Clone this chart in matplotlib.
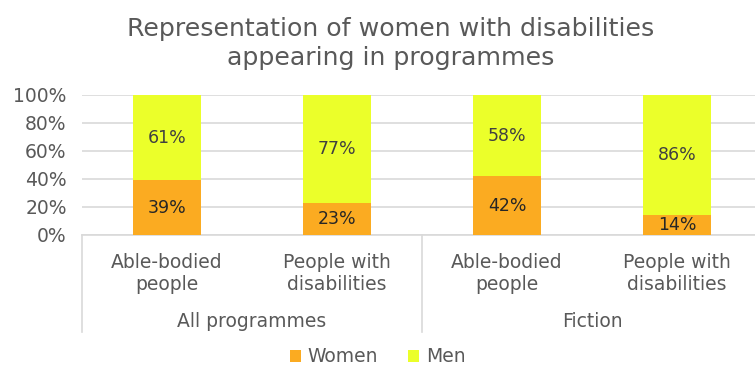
import matplotlib.pyplot as plt
import numpy as np

categories = ['Able-bodied\npeople', 'People with\ndisabilities',
              'Able-bodied\npeople', 'People with\ndisabilities']
groups = ['All programmes', 'Fiction']
women = [39, 23, 42, 14]
men = [61, 77, 58, 86]

orange = '#FBAB21'
yellow = '#EBFF2A'
grey = '#595959'

plt.rcParams['font.family'] = ['DejaVu Sans']

fig = plt.figure(figsize=(7.55, 3.65), dpi=100)
ax = fig.add_axes([82 / 755, 1 - 235 / 365, 680 / 755, 140 / 365])

x = np.arange(len(categories))
b1 = ax.bar(x, women, width=0.395, color=orange, label='Women', zorder=3)
b2 = ax.bar(x, men, bottom=women, width=0.395, color=yellow, label='Men', zorder=3)

for i in range(len(x)):
    ax.text(x[i], women[i] / 2, f'{women[i]}%', ha='center', va='center',
            fontsize=12.5, color='#262626', zorder=4)
    ax.text(x[i], women[i] + men[i] / 2, f'{men[i]}%', ha='center', va='center',
            fontsize=12.5, color='#404040', zorder=4)

ax.set_xlim(-0.5, 3.5)
ax.set_ylim(0, 100)
ax.set_yticks(range(0, 101, 20))
ax.set_yticklabels([f'{v}%' for v in range(0, 101, 20)], fontsize=13.5, color=grey)
ax.yaxis.grid(True, color='#D9D9D9', linewidth=1.2, zorder=0)
ax.tick_params(axis='both', length=0, pad=11)
ax.set_xticks([])
for s in ['top', 'right', 'left']:
    ax.spines[s].set_visible(False)
ax.spines['bottom'].set_color('#D9D9D9')
ax.spines['bottom'].set_linewidth(1.2)

# two-level category axis
trans = ax.get_xaxis_transform()
for i, c in enumerate(categories):
    ax.text(x[i], -0.275, c, transform=trans, ha='center', va='center',
            fontsize=13.5, color=grey, linespacing=1.2)
for g, name in enumerate(groups):
    ax.text(2 * g + 0.5, -0.62, name, transform=trans, ha='center', va='center',
            fontsize=13.5, color=grey)
for xv in [-0.5, 1.5]:
    ax.plot([xv, xv], [0, -0.695], transform=trans, color='#D9D9D9',
            linewidth=1.2, clip_on=False)

fig.text(0.517, 0.880, 'Representation of women with disabilities\nappearing in programmes',
         ha='center', va='center', fontsize=18.2, color=grey, linespacing=1.25)

fig.legend(handles=[b1, b2], loc='center', bbox_to_anchor=(0.5, 0.022),
           ncol=2, frameon=False, fontsize=13.5, handlelength=0.6, handleheight=0.6,
           handletextpad=0.35, columnspacing=1.6, labelcolor=grey)

fig.savefig('out.png', dpi=100)
